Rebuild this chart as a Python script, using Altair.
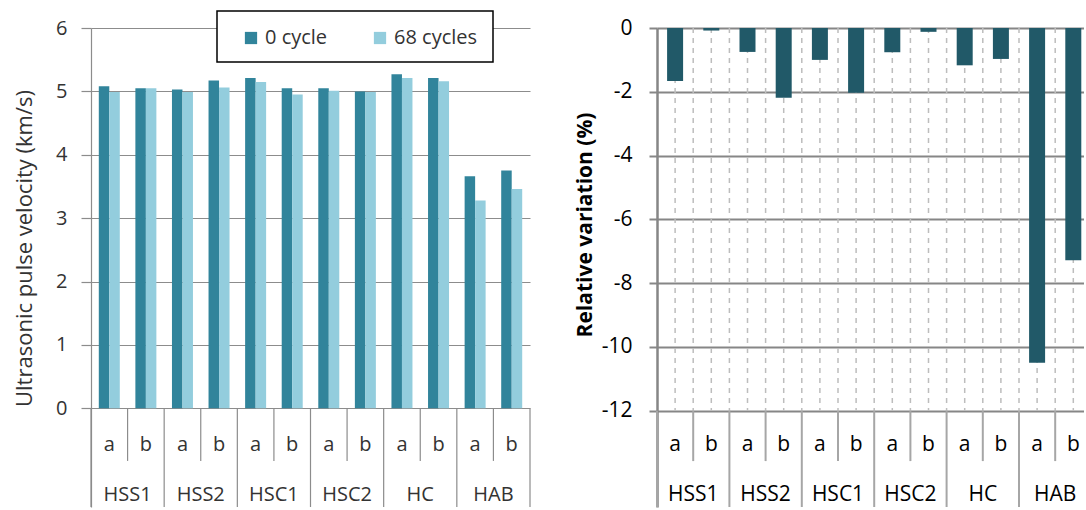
import altair as alt
import pandas as pd

# Specimen layout: two specimens (a, b) per mix
groups = ["HSS1", "HSS2", "HSC1", "HSC2", "HC", "HAB"]
specimens = ["a", "b"]

# Ultrasonic pulse velocity (km/s)
upv_0_cycle = [5.08, 5.05, 5.03, 5.17, 5.21, 5.05, 5.05, 5.00, 5.27, 5.21, 3.66, 3.75]
upv_68_cycles = [4.99, 5.05, 4.99, 5.06, 5.15, 4.95, 5.01, 4.99, 5.21, 5.16, 3.28, 3.46]

# Relative variation of the pulse velocity after 68 cycles (%)
relative_variation = [-1.66, -0.08, -0.75, -2.19, -1.00, -2.03, -0.76, -0.12, -1.17, -0.97, -10.50, -7.28]

series_names = ["0 cycle", "68 cycles"]
series_colors = ["#31849B", "#93CDDD"]
variation_color = "#215968"

velocity_ticks = [0, 1, 2, 3, 4, 5, 6]
variation_ticks = [0, -2, -4, -6, -8, -10, -12]

# ---- tables -------------------------------------------------------------
n_slots = len(groups) * len(specimens)
slots = pd.DataFrame({
    "slot": list(range(n_slots)),
    "group": [g for g in groups for _ in specimens],
    "specimen": specimens * len(groups),
})
slots["center"] = slots["slot"] + 0.5

velocity = pd.concat([
    slots.assign(series=name, order=k, value=vals)
    for k, (name, vals) in enumerate(zip(series_names, [upv_0_cycle, upv_68_cycles]))
], ignore_index=True)
variation = slots.assign(value=relative_variation)

group_labels = pd.DataFrame({"group": groups,
                             "center": [2 * i + 1 for i in range(len(groups))]})
group_edges = pd.DataFrame({"edge": [2 * i for i in range(len(groups) + 1)]})
inner_edges = pd.DataFrame({"edge": [2 * i + 1 for i in range(len(groups))]})
half_steps = pd.DataFrame({"pos": [k / 2 for k in range(1, 2 * n_slots)]})
one_row = pd.DataFrame({"k": [0]})

# ---- geometry -----------------------------------------------------------
LEFT_W, RIGHT_W, H = 439, 427, 479
RIGHT_SLOT = 36.2
LEFT_BOTTOM = -1.557      # velocity value at the bottom of the category table
RIGHT_BOTTOM = -15.02     # variation value at the bottom of the category table
right_xmax = RIGHT_W / RIGHT_SLOT

left_x = alt.Scale(domain=[0, n_slots], nice=False, zero=False)
left_y = alt.Scale(domain=[LEFT_BOTTOM, 6], nice=False, zero=False)
right_x = alt.Scale(domain=[0, right_xmax], nice=False, zero=False)
right_y = alt.Scale(domain=[RIGHT_BOTTOM, 0], nice=False, zero=False)

FONT = "Open Sans"
LEFT_TEXT = "#333333"
LEFT_LINE = "#8c8c8c"
RIGHT_LINE = "#868686"
TABLE_LINE_R = "#a6a6a6"

# ---- left panel: pulse velocity -----------------------------------------
bar_w = 0.287
left_bars = alt.Chart(velocity).transform_calculate(
    x0=f"datum.center - {bar_w} + datum.order * {bar_w}",
    x1=f"datum.center + datum.order * {bar_w}",
).mark_rect().encode(
    x=alt.X("x0:Q", scale=left_x, axis=None),
    x2="x1:Q",
    y=alt.Y("value:Q", scale=left_y, axis=alt.Axis(
        values=velocity_ticks, title="Ultrasonic pulse velocity (km/s)",
        labelExpr="toString(datum.value)",
        grid=True, gridColor=LEFT_LINE, gridWidth=1.2,
        domainColor=LEFT_LINE, domainWidth=1.2,
        tickColor=LEFT_LINE, tickWidth=1.2, tickSize=10,
        labelFont=FONT, labelFontSize=20, labelColor=LEFT_TEXT, labelPadding=14,
        titleFont=FONT, titleFontSize=22, titleFontWeight="normal", titleColor=LEFT_TEXT,
        titleAngle=270, titleX=-67, titleY=220, titleAlign="center", titleBaseline="middle",
    )),
    y2=alt.datum(0),
    color=alt.Color("series:N", scale=alt.Scale(domain=series_names, range=series_colors),
                    legend=alt.Legend(orient="none", legendX=150, legendY=0,
                                      direction="horizontal", title=None,
                                      symbolType="square", symbolSize=150, symbolStrokeWidth=0,
                                      labelFont=FONT, labelFontSize=20, labelColor=LEFT_TEXT,
                                      labelOffset=4, columnPadding=42, padding=0)),
)

legend_frame = alt.Chart(one_row).mark_rect(fill="white", stroke="black", strokeWidth=1.5).encode(
    x=alt.value(126), x2=alt.value(402), y=alt.value(-17), y2=alt.value(34)
)

left_group_lines = alt.Chart(group_edges).mark_rule(color=LEFT_LINE, strokeWidth=1.2).encode(
    x=alt.X("edge:Q", scale=left_x, axis=None), y=alt.datum(0), y2=alt.datum(LEFT_BOTTOM)
)
left_inner_lines = alt.Chart(inner_edges).mark_rule(color=LEFT_LINE, strokeWidth=1.2).encode(
    x=alt.X("edge:Q", scale=left_x, axis=None), y=alt.datum(0), y2=alt.datum(-0.83)
)
left_spec_text = alt.Chart(slots).mark_text(font=FONT, fontSize=20, color=LEFT_TEXT,
                                            baseline="middle").encode(
    x=alt.X("center:Q", scale=left_x, axis=None), y=alt.datum(-0.579), text="specimen:N"
)
left_group_text = alt.Chart(group_labels).mark_text(font=FONT, fontSize=20, color=LEFT_TEXT,
                                                    baseline="middle").encode(
    x=alt.X("center:Q", scale=left_x, axis=None), y=alt.datum(-1.368), text="group:N"
)
# keeps the panel origin clear of the page edge
left_anchor = alt.Chart(one_row).mark_rule(color="white", strokeWidth=1).encode(
    x=alt.value(-90.5), y=alt.value(-27.5), y2=alt.value(-26.5)
)

left = alt.layer(
    legend_frame, left_bars, left_group_lines, left_inner_lines,
    left_spec_text, left_group_text, left_anchor,
).properties(width=LEFT_W, height=H)

# ---- right panel: relative variation ------------------------------------
rbar_w = 0.221
right_dashes = alt.Chart(half_steps).mark_rule(color="#bdbdbd", strokeWidth=1.5,
                                               strokeDash=[5, 5]).encode(
    x=alt.X("pos:Q", scale=right_x, axis=None), y=alt.datum(0), y2=alt.datum(-12)
)
right_bars = alt.Chart(variation).transform_calculate(
    x0=f"datum.center - {rbar_w}",
    x1=f"datum.center + {rbar_w}",
).mark_rect(color=variation_color).encode(
    x=alt.X("x0:Q", scale=right_x, axis=None),
    x2="x1:Q",
    y=alt.Y("value:Q", scale=right_y, axis=alt.Axis(
        values=variation_ticks, title="Relative variation (%)",
        labelExpr="toString(datum.value)",
        grid=True, gridColor=RIGHT_LINE, gridWidth=2,
        domainColor=RIGHT_LINE, domainWidth=2.5,
        tickColor=RIGHT_LINE, tickWidth=2, tickSize=8,
        labelFont=FONT, labelFontSize=21, labelColor="black", labelPadding=17,
        titleFont=FONT, titleFontSize=21, titleFontWeight="bold", titleColor="black",
        titleAngle=270, titleX=-72, titleY=196.5, titleAlign="center", titleBaseline="middle",
    )),
    y2=alt.datum(0),
)
right_group_lines = alt.Chart(group_edges).transform_filter(
    f"datum.edge < {right_xmax}"
).mark_rule(color=TABLE_LINE_R, strokeWidth=2).encode(
    x=alt.X("edge:Q", scale=right_x, axis=None), y=alt.datum(-12), y2=alt.datum(RIGHT_BOTTOM)
)
right_inner_lines = alt.Chart(inner_edges).mark_rule(color=TABLE_LINE_R, strokeWidth=2).encode(
    x=alt.X("edge:Q", scale=right_x, axis=None), y=alt.datum(-12), y2=alt.datum(-13.58)
)
right_spec_text = alt.Chart(slots).mark_text(font=FONT, fontSize=21, color="black",
                                             baseline="middle").encode(
    x=alt.X("center:Q", scale=right_x, axis=None), y=alt.datum(-13.075), text="specimen:N"
)
right_group_text = alt.Chart(group_labels).mark_text(font=FONT, fontSize=21, color="black",
                                                     baseline="middle").encode(
    x=alt.X("center:Q", scale=right_x, axis=None), y=alt.datum(-14.64), text="group:N"
)

right = alt.layer(
    right_dashes, right_bars, right_group_lines, right_inner_lines,
    right_spec_text, right_group_text,
).properties(width=RIGHT_W, height=H)

chart = alt.hconcat(left, right, spacing=127, bounds="flush").resolve_legend(
    color="independent"
).properties(padding=0).configure_view(stroke=None)

chart.save("out.html", embed_options={"renderer": "svg", "actions": False})
